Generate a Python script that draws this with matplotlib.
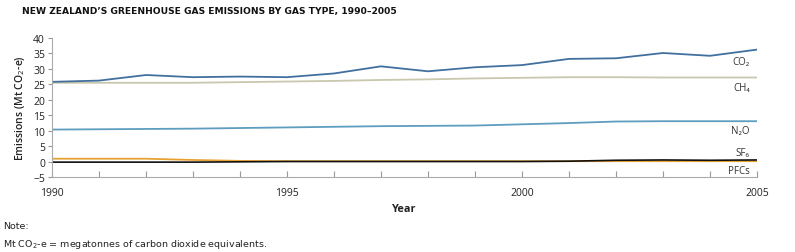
import matplotlib
matplotlib.use("Agg")
import matplotlib.pyplot as plt
from matplotlib import font_manager

years = list(range(1990, 2006))
co2 = [25.7, 26.1, 27.9, 27.2, 27.4, 27.2, 28.4, 30.7, 29.1, 30.4, 31.1, 33.1, 33.3, 35.0, 34.1, 36.1]
ch4 = [25.4, 25.4, 25.4, 25.4, 25.6, 25.8, 26.0, 26.3, 26.5, 26.8, 27.0, 27.2, 27.2, 27.1, 27.1, 27.1]
n2o = [10.3, 10.4, 10.5, 10.6, 10.8, 11.0, 11.2, 11.4, 11.5, 11.6, 12.0, 12.4, 12.9, 13.0, 13.0, 13.0]
pfcs = [0.9, 0.9, 0.9, 0.5, 0.2, 0.1, 0.1, 0.1, 0.1, 0.1, 0.1, 0.1, 0.1, 0.1, 0.1, 0.1]
sf6 = [-0.2, -0.2, -0.2, -0.2, -0.1, 0.0, 0.0, 0.0, 0.0, 0.0, 0.0, 0.1, 0.4, 0.5, 0.4, 0.5]

series_labels = ["CO\u2082", "CH\u2084", "N\u2082O", "SF\u2086", "PFCs"]
label_y = [32.4, 24.0, 9.9, 3.0, -3.0]
y_ticks = [-5, 0, 5, 10, 15, 20, 25, 30, 35, 40]
x_tick_labels = [1990, 1995, 2000, 2005]

names = {f.name for f in font_manager.fontManager.ttflist}
narrow = "Liberation Sans Narrow" if "Liberation Sans Narrow" in names else "DejaVu Sans"
plt.rcParams["font.family"] = ["Open Sans", "DejaVu Sans"]

fig = plt.figure(figsize=(7.95, 2.53), dpi=100)
ax = fig.add_axes([0.0654, 0.2964, 0.8868, 0.5514])

ax.plot(years, ch4, color="#c9c7ae", lw=1.3)
ax.plot(years, co2, color="#41709f", lw=1.3)
ax.plot(years, n2o, color="#5e9dbf", lw=1.3)
ax.plot(years, pfcs, color="#e8a234", lw=1.3)
ax.plot(years, sf6, color="#111111", lw=1.2)

for lab, ly in zip(series_labels, label_y):
    ax.text(2004.85, ly, lab, fontsize=7, color="#333333", ha="right", va="center")

ax.set_xlim(1990, 2005)
ax.set_ylim(-5, 40)
ax.set_yticks(y_ticks)
ax.set_xticks(years)
ax.set_xticklabels([str(y) if y in x_tick_labels else "" for y in years])
ax.tick_params(axis="x", direction="in", length=4, color="#999999", labelsize=7.5,
               labelcolor="#222222", pad=7)
ax.tick_params(axis="y", direction="out", length=3, color="#999999", labelsize=7.5,
               labelcolor="#222222", pad=2)
for side in ["top", "right"]:
    ax.spines[side].set_visible(False)
for side in ["left", "bottom"]:
    ax.spines[side].set_color("#aaaaaa")
    ax.spines[side].set_linewidth(0.8)

ax.set_xlabel("Year", fontsize=7.8, fontweight="bold", color="#222222", labelpad=4)
ax.set_ylabel("Emissions (Mt CO$_2$-e)", fontsize=7.5, fontweight="semibold", color="#222222", labelpad=4)

fig.text(0.028, 0.955, "NEW ZEALAND\u2019S GREENHOUSE GAS EMISSIONS BY GAS TYPE, 1990\u20132005",
         fontsize=6.6, fontweight="bold", family=[narrow, "DejaVu Sans"], color="#111111", va="center")
fig.text(0.004, 0.105, "Note:", fontsize=6.8, family=[narrow, "DejaVu Sans"], color="#222222", va="center")
fig.text(0.004, 0.035, "Mt CO$_2$-e = megatonnes of carbon dioxide equivalents.", fontsize=6.8,
         family=[narrow, "DejaVu Sans"], color="#222222", va="center")

fig.savefig("out.png", dpi=100)
